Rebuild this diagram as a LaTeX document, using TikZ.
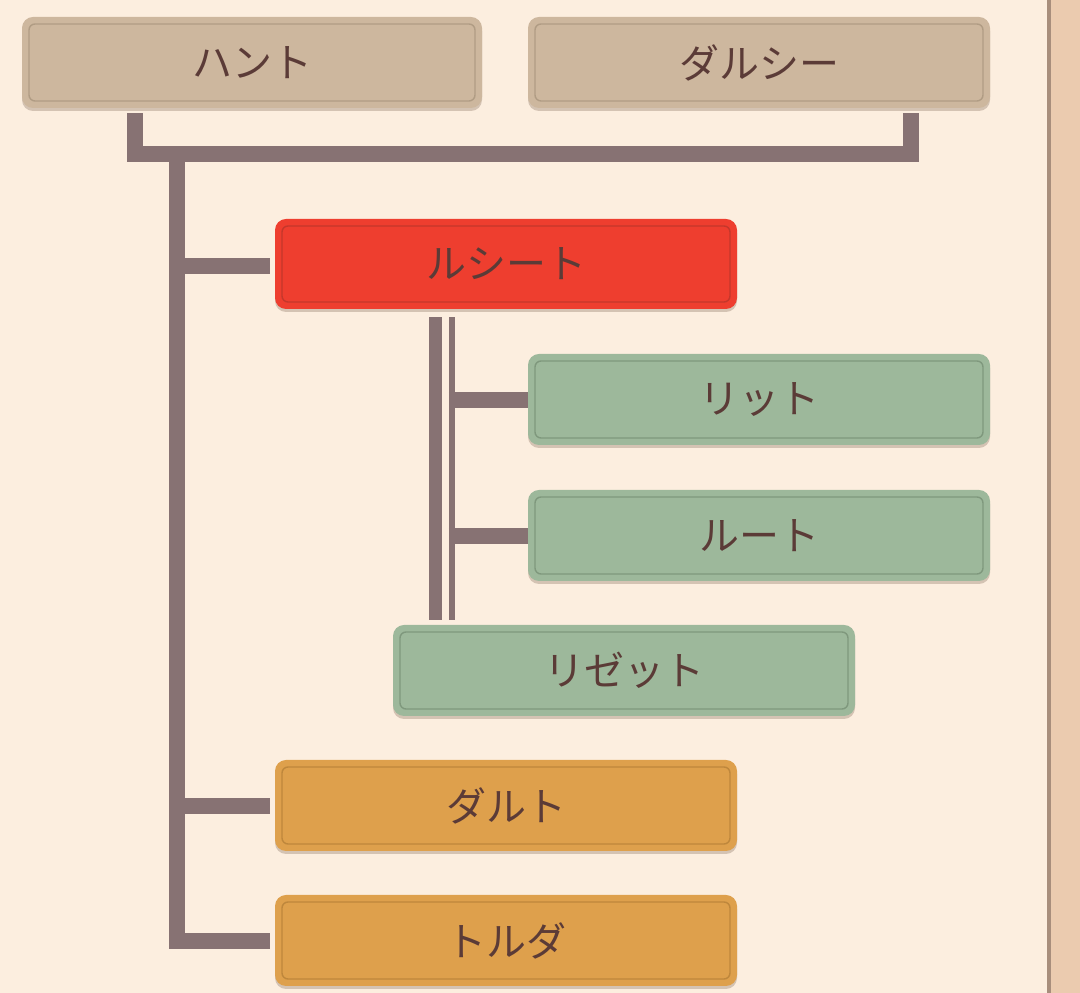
\documentclass[tikz,border=0pt]{standalone}
\usepackage{fontspec}
\newfontfamily\jp{Noto Sans CJK JP}
\usetikzlibrary{calc,shadows}
\definecolor{bgc}{HTML}{FCEEDF}
\definecolor{stripc}{HTML}{EBCBAF}
\definecolor{stripl}{HTML}{A88E7C}
\definecolor{lnc}{HTML}{877273}
\definecolor{txt}{HTML}{5B3B37}
\definecolor{shad}{HTML}{7A6050}
\definecolor{tanf}{HTML}{CDB79E}
\definecolor{tanl}{HTML}{B09C84}
\definecolor{redf}{HTML}{EE3E2F}
\definecolor{redl}{HTML}{C4372B}
\definecolor{grnf}{HTML}{9DB89B}
\definecolor{grnl}{HTML}{7F987D}
\definecolor{orgf}{HTML}{DEA04C}
\definecolor{orgl}{HTML}{BE873C}
\begin{document}
\begin{tikzpicture}[x=1pt,y=1pt,
  box/.style={minimum width=462pt, minimum height=91pt, rounded corners=11pt,
    inner sep=0pt, text=txt, font=\jp\fontsize{40}{42}\selectfont,
    drop shadow={shadow xshift=0pt, shadow yshift=-3pt, opacity=0.3, fill=shad}},
  innerline/.style={path picture={\draw[#1, line width=1.4pt, rounded corners=6pt]
    ([shift={(7pt,-7pt)}]path picture bounding box.north west) rectangle
    ([shift={(-7pt,7pt)}]path picture bounding box.south east);}},
  tanbox/.style={box, fill=tanf, innerline=tanl},
  redbox/.style={box, fill=redf, innerline=redl},
  grnbox/.style={box, fill=grnf, innerline=grnl},
  orgbox/.style={box, fill=orgf, innerline=orgl},
  conn/.style={draw=lnc, line width=16pt}
]
\useasboundingbox (0,0) rectangle (1080,993);
\fill[bgc] (0,0) rectangle (1080,993);
\fill[stripc] (1048,0) rectangle (1080,993);
\fill[stripl] (1046.5,0) rectangle (1050.5,993);

\node[tanbox, minimum width=460pt] (hunt) at (252,930.5) {ハント};
\node[tanbox] (dulcie) at (759,930.5) {ダルシー};
\node[redbox, minimum height=90pt] (lucy) at (506,729) {ルシート};
\node[grnbox] (lit) at (759,593.5) {リット};
\node[grnbox] (root) at (759,457.5) {ルート};
\node[grnbox] (rizette) at (624,322.5) {リゼット};
\node[orgbox] (dalt) at (506,187.5) {ダルト};
\node[orgbox] (tolda) at (506,52.5) {トルダ};

% parents
\draw[conn] ($(hunt.south west)+(113,-5)$) -- ++(0,-41) -| ($(dulcie.south east)+(-79.5,-5)$);
\coordinate (tt) at (177,839);
\coordinate (lb) at ($(lucy.west)+(-5,-2)$);
\coordinate (db) at ($(dalt.west)+(-5,-1)$);
\coordinate (tb) at ($(tolda.west)+(-5,-1)$);
\draw[conn] (tt) |- (tb);
\draw[conn] (tt |- lb) -- (lb);
\draw[conn] (tt |- db) -- (db);

% lucy's children
\draw[lnc, line width=13pt] ($(lucy.south)+(-70.5,-8)$) -- ($(rizette.north)+(-188.5,5)$);
\draw[lnc, line width=6pt] ($(lucy.south)+(-54,-8)$) -- ($(rizette.north)+(-172,5)$);
\draw[conn] ($(lit.west)+(-79,-1)$) -- ($(lit.west)+(0,-1)$);
\draw[conn] ($(root.west)+(-79,-1)$) -- ($(root.west)+(0,-1)$);
\end{tikzpicture}
\end{document}
